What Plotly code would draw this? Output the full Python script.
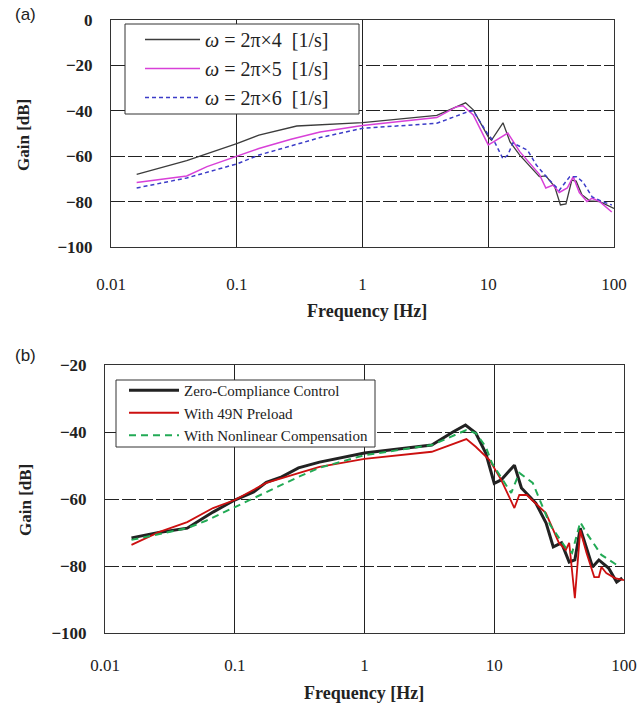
import plotly.graph_objects as go

# ---------------- Panel (a) data ----------------
fa_k4 = [0.016, 0.04, 0.1, 0.15, 0.3, 1.0, 3.9, 5.5, 6.6, 7.6, 10.0, 10.6, 13.1, 14.9, 17.8, 25.5, 28.7, 33.8, 37.5, 41.5, 46.2, 50.0, 55.6, 64.5, 77.0, 100.0]
ga_k4 = [-68, -62, -54.5, -50.7, -46.7, -45.2, -42, -38.5, -36.5, -39.6, -51.5, -53, -45.3, -53.7, -59.5, -69, -68.7, -73.5, -81.5, -81, -70.5, -71, -77, -79.7, -80, -83]

fa_k5 = [0.016, 0.04, 0.058, 0.1, 0.15, 0.27, 0.46, 1.0, 3.9, 5.6, 6.3, 7.6, 10.0, 11.0, 14.3, 17.8, 25.5, 28.7, 32.8, 36.7, 42.5, 47.4, 53.0, 61.0, 67.0, 77.0, 96.0]
ga_k5 = [-71.6, -68.7, -64.6, -60, -56.6, -52.5, -49.3, -46.5, -43, -38.2, -37.8, -41.8, -55, -53.7, -49.8, -58, -68, -74, -72.7, -76, -74, -69, -76, -80, -78.5, -80, -84.6]

fa_k6 = [0.016, 0.04, 0.1, 0.15, 0.46, 1.0, 3.9, 6.8, 7.6, 8.6, 10.0, 11.3, 13.1, 14.3, 15.7, 20.5, 24.2, 30.6, 36.7, 44.5, 50.5, 56.6, 67.0, 81.0, 96.0]
ga_k6 = [-74, -69.6, -63.4, -59.5, -51.8, -47.7, -45.5, -40.5, -40, -45, -50.6, -54, -61.2, -59.5, -54.2, -57.3, -64, -70.5, -75, -69, -69, -71.4, -77.9, -80, -81.5]

# ---------------- Panel (b) data ----------------
fb_zc = [0.016, 0.026, 0.043, 0.068, 0.1, 0.14, 0.175, 0.23, 0.31, 0.45, 1.0, 3.3, 4.8, 6.0, 7.2, 8.6, 10.0, 11.3, 14.3, 16.2, 20.9, 25.1, 28.5, 33.0, 37.8, 41.8, 46.0, 51.3, 57.2, 64.0, 76.0, 87.8, 97.0]
gb_zc = [-71.6, -70, -68.7, -63.9, -60.3, -57.9, -55, -53.4, -50.7, -49, -46.3, -43.9, -40, -37.9, -40.3, -46.3, -55.3, -54.3, -49.9, -56.7, -61.2, -67.2, -74.3, -73.1, -78.8, -78.2, -68.7, -74.3, -80.3, -78.2, -80.6, -84.8, -83.6]

fb_pl = [0.016, 0.026, 0.043, 0.068, 0.1, 0.175, 0.31, 0.45, 1.0, 3.3, 6.1, 7.2, 9.2, 11.3, 14.3, 15.6, 17.8, 25.0, 31.5, 35.6, 37.8, 41.8, 46.0, 51.3, 59.0, 64.0, 67.0, 73.0, 85.0, 100.0]
gb_pl = [-73.7, -69.9, -66.9, -62.7, -60.3, -55.2, -52.3, -50.4, -48, -45.9, -42.1, -44.4, -48.4, -54.3, -62.7, -58.8, -58.8, -64.2, -73.1, -75.2, -73.1, -89.6, -69.3, -76, -83.3, -83.3, -80.3, -82.1, -83.6, -84.2]

fb_nc = [0.016, 0.043, 0.06, 0.1, 0.175, 0.31, 0.45, 1.0, 3.3, 6.1, 7.2, 8.6, 9.6, 11.3, 13.5, 15.6, 19.8, 27.0, 35.6, 39.8, 46.0, 51.3, 67.0, 88.0]
gb_nc = [-72.2, -68.7, -66.5, -62.4, -57.9, -53.4, -50.7, -46.9, -43.9, -39.4, -40.3, -44.4, -49.3, -53.4, -58.2, -52.2, -55.2, -67.8, -74.6, -76.1, -66.9, -70.1, -76.7, -79.7]

x_tickvals = [0.01, 0.1, 1, 10, 100]
x_ticktext = ["0.01", "0.1", "1", "10", "100"]

SERIF = "Liberation Serif"
SANS = "Liberation Sans"

fig = go.Figure()

# Panel (a)
fig.add_trace(go.Scatter(x=fa_k4, y=ga_k4, mode="lines", name="<i>ω</i> = 2π×4&nbsp;&nbsp;[1/s]",
                         line=dict(color="#3c3c3c", width=1.3), xaxis="x", yaxis="y",
                         legend="legend", legendgroup="a1"))
fig.add_trace(go.Scatter(x=fa_k5, y=ga_k5, mode="lines", name="<i>ω</i> = 2π×5&nbsp;&nbsp;[1/s]",
                         line=dict(color="#d840d8", width=1.5), xaxis="x", yaxis="y",
                         legend="legend", legendgroup="a2"))
fig.add_trace(go.Scatter(x=fa_k6, y=ga_k6, mode="lines", name="<i>ω</i> = 2π×6&nbsp;&nbsp;[1/s]",
                         line=dict(color="#3c3cc8", width=1.5, dash="4px,3px"), xaxis="x", yaxis="y",
                         legend="legend", legendgroup="a3"))

# Panel (b)
fig.add_trace(go.Scatter(x=fb_zc, y=gb_zc, mode="lines", name="Zero-Compliance Control",
                         line=dict(color="#222222", width=3), xaxis="x2", yaxis="y2",
                         legend="legend2", legendgroup="b1"))
fig.add_trace(go.Scatter(x=fb_pl, y=gb_pl, mode="lines", name="With 49N Preload",
                         line=dict(color="#cc1010", width=1.8), xaxis="x2", yaxis="y2",
                         legend="legend2", legendgroup="b2"))
fig.add_trace(go.Scatter(x=fb_nc, y=gb_nc, mode="lines", name="With Nonlinear Compensation",
                         line=dict(color="#22aa55", width=2, dash="7px,5px"), xaxis="x2", yaxis="y2",
                         legend="legend2", legendgroup="b3"))

W, H = 641, 709
def px_x(p): return p / W
def px_y(p): return 1 - p / H

xcommon = dict(type="log", range=[-2, 2], tickvals=x_tickvals, ticktext=x_ticktext,
               showgrid=True, gridcolor="#222222", gridwidth=1, griddash="solid",
               showline=True, linecolor="#333333", linewidth=1, mirror=True,
               ticks="", tickfont=dict(family=SERIF, size=17, color="#222"),
               zeroline=False, automargin=False)
ycommon = dict(dtick=20, showgrid=True, gridcolor="#222222", gridwidth=1, griddash="14px,3px",
               showline=True, linecolor="#333333", linewidth=1, mirror=True,
               ticks="", tickfont=dict(family=SERIF, size=17, color="#222", weight="bold"),
               zeroline=False, automargin=False)

def ann(text, x, y, size, family=SERIF, angle=0):
    return dict(text=text, x=px_x(x), y=px_y(y), xref="paper", yref="paper",
                xanchor="center", yanchor="middle", showarrow=False, textangle=angle,
                font=dict(family=family, size=size, color="#222"))

def legend_box(x0, y0, x1, y1):
    return dict(type="rect", xref="paper", yref="paper",
                x0=px_x(x0), x1=px_x(x1), y0=px_y(y1), y1=px_y(y0),
                fillcolor="white", line=dict(color="#333", width=1), layer="above")

fig.update_layout(
    template="none",
    width=W, height=H,
    margin=dict(l=0, r=0, t=0, b=0, autoexpand=False),
    paper_bgcolor="white", plot_bgcolor="white",
    xaxis=dict(**xcommon, domain=[px_x(111), px_x(614)], anchor="y", ticklabelstandoff=22),
    yaxis=dict(**ycommon, domain=[px_y(247), px_y(20)], anchor="x", range=[-100, 0], ticklabelstandoff=14),
    xaxis2=dict(**xcommon, domain=[px_x(105), px_x(624)], anchor="y2", ticklabelstandoff=17),
    yaxis2=dict(**ycommon, domain=[px_y(633), px_y(365)], anchor="x2", range=[-100, -20], ticklabelstandoff=14),
    legend=dict(x=px_x(140), y=px_y(20), xanchor="left", yanchor="top",
                bgcolor="rgba(0,0,0,0)", borderwidth=0,
                font=dict(family=SERIF, size=20, color="#222"),
                tracegroupgap=0, traceorder="grouped", itemwidth=55),
    legend2=dict(x=px_x(124), y=px_y(374), xanchor="left", yanchor="top",
                 bgcolor="rgba(0,0,0,0)", borderwidth=0,
                 font=dict(family=SERIF, size=15, color="#222"),
                 tracegroupgap=0, traceorder="grouped", itemwidth=50),
    showlegend=True,
    shapes=[legend_box(125, 24, 359, 114), legend_box(116, 380, 375, 447)],
    annotations=[
        ann("(a)", 25, 15, 17, SANS),
        ann("(b)", 25, 355, 17, SANS),
        ann("<b>Gain [dB]</b>", 23, 135, 17, angle=-90),
        ann("<b>Frequency [Hz]</b>", 367, 311, 18),
        ann("<b>Gain [dB]</b>", 25, 500, 17, angle=-90),
        ann("<b>Frequency [Hz]</b>", 364, 693, 18),
    ],
)

fig.write_html("out.html", config={"displayModeBar": False},
               post_script="document.body.style.margin='0px';document.body.style.padding='0px';")
